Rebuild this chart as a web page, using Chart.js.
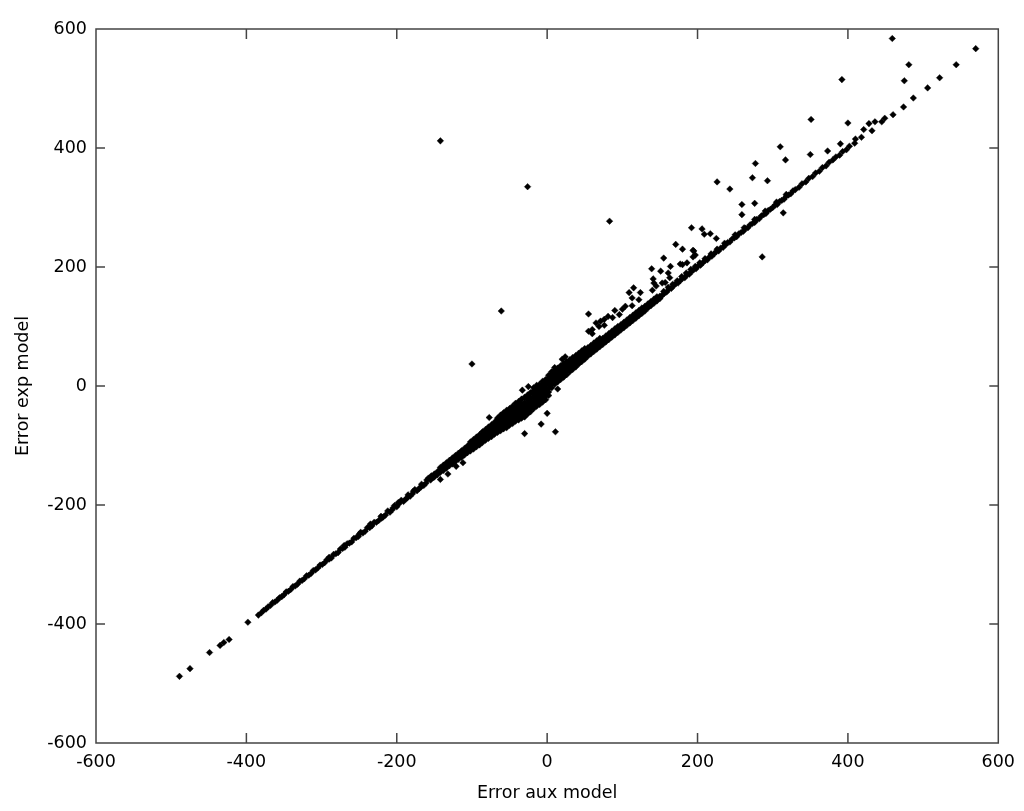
<!DOCTYPE html>
<html><head><meta charset="utf-8">
<script src="https://cdn.jsdelivr.net/npm/chart.js@4"></script>
<style>html,body{margin:0;padding:0;background:#fff;}#wrap{width:1024px;height:811px;}</style>
</head><body><div id="wrap"><canvas id="c" width="1024" height="811"></canvas></div>
<script>
const xTicks = [-600,-400,-200,0,200,400,600];
const yTicks = [-600,-400,-200,0,200,400,600];
const xTitle = 'Error aux model';
const yTitle = 'Error exp model';

// sparse lower tail [x, y]
const lowerTail = [[-489,-488],[-475,-475],[-449,-448],[-435,-436],[-430,-431],[-423,-426],[-398,-397],[-384,-385]];

// thin band on the negative side [x, y]
const lowerBand = [[-380,-381],[-377,-377],[-374,-375],[-371,-371],[-368,-369],[-365,-364],[-362,-363],[-359,-360],[-356,-356],[-353,-354],[-350,-351],[-347,-346],[-344,-345],[-341,-342],[-338,-337],[-335,-336],[-332,-333],[-329,-328],[-326,-327],[-323,-324],[-320,-319],[-317,-318],[-314,-315],[-311,-310],[-308,-309],[-305,-306],[-302,-301],[-299,-300],[-296,-297],[-293,-292],[-290,-291],[-287,-289],[-284,-283],[-281,-282],[-278,-280],[-275,-274],[-272,-273],[-269,-271],[-266,-265],[-263,-264],[-260,-262],[-257,-256],[-254,-255],[-251,-253],[-248,-246],[-245,-247],[-242,-244],[-239,-238],[-236,-238],[-233,-235],[-230,-229],[-227,-229],[-224,-226],[-221,-219],[-218,-220],[-215,-217],[-212,-210],[-209,-212],[-206,-208],[-203,-201],[-200,-203],[-197,-198],[-194,-192],[-191,-194],[-188,-190],[-185,-183],[-182,-185],[-179,-181],[-176,-174],[-173,-176],[-170,-172],[-167,-165],[-164,-167],[-161,-163],[-158,-155],[-155,-158],[-152,-154],
[-290,-288],[-270,-268],[-250,-249],[-235,-232],[-220,-222],[-205,-205],[-198,-196],[-186,-188],[-178,-177],[-168,-170],[-160,-158],[-154,-151]];

// widening band [x, y1, y2, ...]
const midBandRows = [[-150,-153,-151,-148],[-146,-149,-147,-144],[-142,-145,-143,-140,-137],[-138,-142,-139,-136,-133],[-134,-138,-135,-132,-129],[-130,-134,-131,-128,-125],[-126,-131,-127,-124,-121],[-122,-127,-123,-120,-117],[-118,-123,-119,-116,-113],[-114,-120,-116,-112,-109],[-110,-116,-112,-108,-105],[-106,-112,-108,-104,-101],[-102,-109,-105,-101,-97,-94],[-98,-106,-102,-97,-93,-90],[-94,-102,-98,-93,-89,-86],[-90,-99,-94,-90,-85,-82],[-86,-95,-90,-86,-81,-77],[-82,-91,-87,-82,-78,-73],[-78,-88,-84,-79,-74,-69],[-74,-85,-80,-75,-70,-65],[-70,-81,-76,-71,-66,-61],[-66,-78,-73,-67,-62,-57,-54],[-62,-75,-70,-64,-58,-53,-49],[-58,-72,-67,-61,-55,-49,-45],[-54,-70,-64,-58,-52,-46,-41]];

// dense centre [x, y1, y2, ...]
const centerBandRows = [[-50,-66,-60,-54,-48,-42,-38],[-46,-63,-57,-51,-45,-39,-34],[-42,-59,-53,-47,-41,-35,-29],[-38,-57,-51,-45,-39,-33,-26],[-34,-54,-48,-42,-36,-30,-22],[-30,-52,-46,-40,-34,-28,-19],[-26,-47,-41,-35,-29,-23,-15],[-22,-43,-37,-31,-25,-19,-11],[-18,-38,-32,-26,-20,-14,-8,-3],[-14,-34,-28,-22,-16,-10,-4,1],[-10,-31,-25,-19,-13,-7,-1,3],[-6,-27,-21,-15,-9,-3,3,8],[-2,-23,-17,-11,-5,1,7,11],[2,-16,-10,-4,2,8,14,18],[6,-3,3,9,15,20,24],[10,3,9,15,21,27,31],[14,7,13,19,25,30],[18,11,17,23,29,34],[22,15,21,27,33,38],[26,19,25,31,37,41],[30,24,29,34,39,44],[34,28,33,38,43,48],[38,32,37,42,47,51],[42,37,42,47,52,55],[46,41,46,51,55,59],[50,45,50,55,59,63]];

// positive side band [x, y1, y2, ...]
const upperBandRows = [[54,50,55,60,64],[58,54,59,64,68],[62,58,63,68,72],[66,62,67,72,76],[70,66,71,76,80],[74,70,75,80],[78,74,79,84],[82,78,83,88],[86,82,87,92],[90,86,91,96],[94,90,95,100],[98,94,99,103],[102,98,103,107],[106,102,107,111],[110,106,111,115],[114,110,115,119],[118,114,119,123],[122,118,123,127],[126,122,127,131],[130,126,131,134],[134,131,135,138],[138,135,139,142],[142,139,143,146],[146,143,147,150],[150,147,151]];

// thin line on the positive side [x, y]
const upperLine = [[153,152],[156,156],[159,158],[162,163],[165,164],[168,168],[171,172],[174,173],[177,177],[180,181],[183,182],[186,187],[189,188],[192,192],[195,196],[198,197],[201,202],[204,203],[207,207],[210,211],[213,212],[216,217],[219,218],[222,222],[225,226],[228,227],[231,232],[234,233],[237,237],[240,241],[243,242],[246,247],[249,249],[252,251],[255,256],[258,258],[261,260],[264,265],[267,266],[270,271],[273,273],[276,275],[279,280],[282,281],[285,286],[288,288],[291,290],[294,295],[297,297],[300,300],[303,304],[306,305],[309,310],[312,312],[315,314],[318,319],[321,321],[324,323],[327,328],[330,330],
[155,159],[161,166],[167,171],[173,177],[179,184],[185,190],[191,196],[197,201],[203,207],[210,214],[218,222],[226,230],[236,240],[250,254],[262,266],[276,280],[290,294],[305,309],[318,322],
[335,334],[339,340],[344,343],[348,349],[353,352],[357,358],[362,361],[366,367],[371,370],[375,376],[380,380],[384,385],[389,388],[393,394],[398,397],[402,403],
[409,408],[410,415],[418,418],[421,431],[428,441],[432,429],[436,444],[445,444],[449,450],[460,456],[474,469],[487,484],[506,501],[522,518],[544,540],[570,567]];

// points scattered above the line [x, y]
const upperScatter = [[459,584],[481,540],[475,513],[392,515],[351,448],[400,442],[390,407],[310,402],[373,395],[350,389],[317,380],[277,374],[273,350],[293,345],[226,343],[243,331],[259,305],[276,307],[259,288],[314,291],[286,217],[192,266],[206,264],[209,255],[217,256],[225,248],[180,230],[194,228],[194,217],[186,207],[180,204],[171,238],[83,277],[195,227],[197,220],[177,205],[155,215],[164,201],[139,197],[151,193],[161,190],[163,182],[157,174],[141,180],[142,173],[145,168],[140,161],[153,173],[115,165],[109,157],[124,157],[113,148],[122,145],[113,135],[104,134],[100,129],[90,127],[96,120],[87,115],[81,117],[76,112],[71,109],[65,106],[76,102],[69,100],[60,95],[55,92],[55,121],[60,88]];

// isolated points near the centre [x, y]
const centerOutliers = [[-142,412],[-26,335],[-61,126],[-100,37],[24,49],[20,45],[-33,-7],[-25,-1],[14,-5],[-77,-53],[0,-46],[-8,-64],[-30,-80],[11,-77]];
const lowerOutliers = [[-142,-157],[-132,-148],[-121,-135],[-112,-129]];

const pairs = a => a.map(([x, y]) => ({x, y}));
const rows = a => a.flatMap(([x, ...ys]) => ys.map(y => ({x, y})));
const points = [].concat(pairs(lowerTail), pairs(lowerBand), rows(midBandRows), rows(centerBandRows), rows(upperBandRows), pairs(upperLine), pairs(upperScatter), pairs(centerOutliers), pairs(lowerOutliers));

const FONT = 'DejaVu Sans';
const boxPlugin = {
  id: 'box',
  afterDatasetsDraw(chart) {
    const {ctx, chartArea: {left, right, top, bottom}, scales: {x, y}} = chart;
    ctx.save();
    ctx.strokeStyle = '#444';
    ctx.lineWidth = 1.5;
    ctx.beginPath();
    ctx.rect(left, top, right - left, bottom - top);
    xTicks.forEach(v => {
      const px = x.getPixelForValue(v);
      ctx.moveTo(px, bottom); ctx.lineTo(px, bottom - 10);
      ctx.moveTo(px, top); ctx.lineTo(px, top + 10);
    });
    yTicks.forEach(v => {
      const py = y.getPixelForValue(v);
      ctx.moveTo(left, py); ctx.lineTo(left + 9, py);
      ctx.moveTo(right, py); ctx.lineTo(right - 9, py);
    });
    ctx.stroke();
    ctx.restore();
  }
};

new Chart(document.getElementById('c'), {
  type: 'scatter',
  data: { datasets: [{ data: points, pointStyle: 'rectRot', pointRadius: 3.3, backgroundColor: '#000', borderColor: '#000', borderWidth: 0.4 }] },
  options: {
    responsive: false, animation: false, devicePixelRatio: 1,
    layout: { padding: { top: 29, right: 24, bottom: 0, left: 0 } },
    plugins: { legend: { display: false }, tooltip: { enabled: false } },
    scales: {
      x: {
        type: 'linear', min: -600, max: 600,
        afterBuildTicks: s => { s.ticks = xTicks.map(v => ({value: v})); },
        afterFit: s => { s.height = 68; },
        grid: { display: false, drawTicks: false }, border: { display: false },
        ticks: { color: '#000', padding: 9, font: { family: FONT, size: 17.5 }, maxRotation: 0 },
        title: { display: true, text: xTitle, color: '#000', font: { family: FONT, size: 17.5 }, padding: { top: 0, bottom: 7 } }
      },
      y: {
        type: 'linear', min: -600, max: 600,
        afterBuildTicks: s => { s.ticks = yTicks.map(v => ({value: v})); },
        afterFit: s => { s.width = 96; },
        grid: { display: false, drawTicks: false }, border: { display: false },
        ticks: { color: '#000', padding: 9, font: { family: FONT, size: 17.5 } },
        title: { display: true, text: yTitle, color: '#000', font: { family: FONT, size: 17.5 }, padding: { top: 12.5, bottom: 0 } }
      }
    }
  },
  plugins: [boxPlugin]
});
</script></body></html>
